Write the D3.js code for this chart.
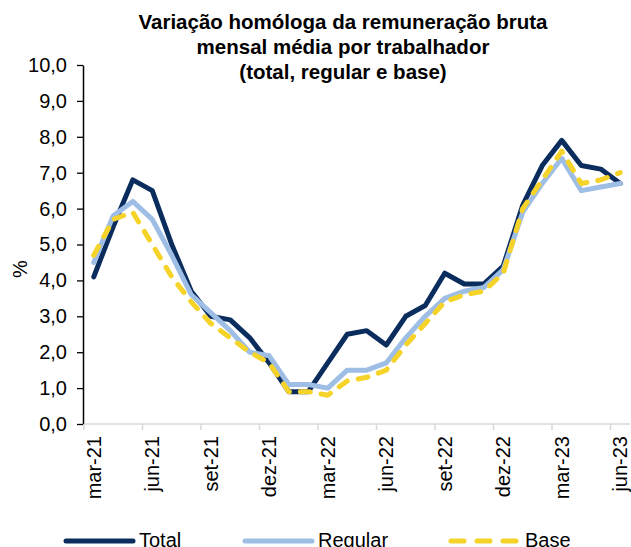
<!DOCTYPE html>
<html>
<head>
<meta charset="utf-8">
<script src="https://cdn.jsdelivr.net/npm/d3@7"></script>
<style>
    body { margin: 0; background: #fff; }
    text { font-family: "Liberation Sans", Arial, sans-serif; fill: #000; }
    .title { font-weight: bold; font-size: 20.5px; }
</style>
</head>
<body>
<div id="vis"></div>
<script>
    var months = ["mar-21", "abr-21", "mai-21", "jun-21", "jul-21", "ago-21", "set-21", "out-21", "nov-21", "dez-21",
        "jan-22", "fev-22", "mar-22", "abr-22", "mai-22", "jun-22", "jul-22", "ago-22", "set-22", "out-22", "nov-22", "dez-22",
        "jan-23", "fev-23", "mar-23", "abr-23", "mai-23", "jun-23"];

    var total = [4.1, 5.5, 6.8, 6.5, 5.0, 3.7, 3.0, 2.9, 2.4, 1.7, 0.9, 0.9, 1.7, 2.5, 2.6, 2.2, 3.0, 3.3, 4.2, 3.9, 3.9, 4.4, 6.1, 7.2, 7.9, 7.2, 7.1, 6.7];
    var regular = [4.5, 5.8, 6.2, 5.7, 4.7, 3.6, 3.1, 2.6, 2.0, 1.9, 1.1, 1.1, 1.0, 1.5, 1.5, 1.7, 2.4, 3.0, 3.5, 3.7, 3.8, 4.3, 5.9, 6.7, 7.4, 6.5, 6.6, 6.7];
    var base = [4.7, 5.7, 5.9, 5.0, 4.1, 3.4, 2.8, 2.4, 2.0, 1.7, 0.9, 0.9, 0.8, 1.2, 1.3, 1.5, 2.2, 2.8, 3.4, 3.6, 3.7, 4.2, 6.0, 6.8, 7.6, 6.7, 6.8, 7.0];

    var yTicks = d3.range(0, 10.01, 1);
    var titleLines = ["Variação homóloga da remuneração bruta", "mensal média por trabalhador", "(total, regular e base)"];

    var series = [
        { name: "Total", values: total, color: "#0b2d5e", dash: null },
        { name: "Regular", values: regular, color: "#9fbee6", dash: null },
        { name: "Base", values: base, color: "#f5d328", dash: "10,11" }
    ];

    var width = 631,
        height = 547;

    var x = d3.scaleBand()
        .domain(months)
        .range([84, 630]);

    var y = d3.scaleLinear()
        .domain([0, 10])
        .range([424, 65]);

    var svg = d3.select("#vis").append("svg")
        .attr("width", width)
        .attr("height", height);

    // y axis
    var yAxis = svg.append("g")
        .attr("transform", "translate(83,0)")
        .call(d3.axisLeft(y)
            .tickValues(yTicks)
            .tickSize(6)
            .tickSizeOuter(0)
            .tickFormat(function(d) { return d3.format(".1f")(d).replace(".", ","); }));
    yAxis.select(".domain").attr("stroke", "#000").attr("stroke-width", 1.5);
    yAxis.selectAll(".tick line").attr("stroke", "#000").attr("stroke-width", 1.3);
    yAxis.selectAll(".tick text")
        .attr("x", -16)
        .style("font-size", "20px")
        .style("font-family", "Liberation Sans, Arial, sans-serif")
        .attr("fill", "#000");

    // x axis: ticks on band edges every 3 months
    var xAxis = svg.append("g").attr("class", "x-axis");
    xAxis.append("line")
        .attr("x1", x.range()[0])
        .attr("x2", x.range()[1])
        .attr("y1", y(0))
        .attr("y2", y(0))
        .attr("stroke", "#d9d9d9")
        .attr("stroke-width", 1.5);

    var shown = months.filter(function(d, i) { return i % 3 === 0; });

    xAxis.selectAll(".xtick")
        .data(shown)
        .enter().append("line")
        .attr("x1", function(d) { return x(d); })
        .attr("x2", function(d) { return x(d); })
        .attr("y1", y(0))
        .attr("y2", y(0) + 6)
        .attr("stroke", "#d9d9d9")
        .attr("stroke-width", 1.5);

    xAxis.selectAll(".xlabel")
        .data(shown)
        .enter().append("text")
        .attr("transform", function(d) {
            return "translate(" + (x(d) + x.bandwidth() / 2 + 7) + "," + (y(0) + 12) + ") rotate(-90)";
        })
        .attr("text-anchor", "end")
        .style("font-size", "20px")
        .text(function(d) { return d; });

    // y label
    svg.append("text")
        .attr("transform", "translate(27,269) rotate(-90)")
        .attr("text-anchor", "middle")
        .style("font-size", "20px")
        .text("%");

    // lines
    var line = d3.line()
        .x(function(d, i) { return x(months[i]) + x.bandwidth() / 2; })
        .y(function(d) { return y(d); });

    svg.selectAll(".series")
        .data(series)
        .enter().append("path")
        .attr("class", "series")
        .attr("d", function(d) { return line(d.values); })
        .attr("fill", "none")
        .attr("stroke", function(d) { return d.color; })
        .attr("stroke-width", 5)
        .attr("stroke-linejoin", "round")
        .attr("stroke-linecap", "round")
        .attr("stroke-dasharray", function(d) { return d.dash; });

    // title
    svg.selectAll(".title")
        .data(titleLines)
        .enter().append("text")
        .attr("class", "title")
        .attr("x", 343)
        .attr("y", function(d, i) { return 29 + i * 25; })
        .attr("text-anchor", "middle")
        .text(function(d) { return d; });

    // legend
    var legendX = [66, 245, 451];
    var legend = svg.selectAll(".legend")
        .data(series)
        .enter().append("g")
        .attr("class", "legend")
        .attr("transform", function(d, i) { return "translate(" + legendX[i] + ",541)"; });

    legend.append("line")
        .attr("x1", 0)
        .attr("x2", 67)
        .attr("stroke", function(d) { return d.color; })
        .attr("stroke-width", 5)
        .attr("stroke-linecap", "round")
        .attr("stroke-dasharray", function(d) { return d.dash ? "13,13" : null; });

    legend.append("text")
        .attr("x", function(d, i) { return i === 2 ? 74 : 73; })
        .attr("y", 6)
        .style("font-size", "20px")
        .text(function(d) { return d.name; });
</script>
</body>
</html>
